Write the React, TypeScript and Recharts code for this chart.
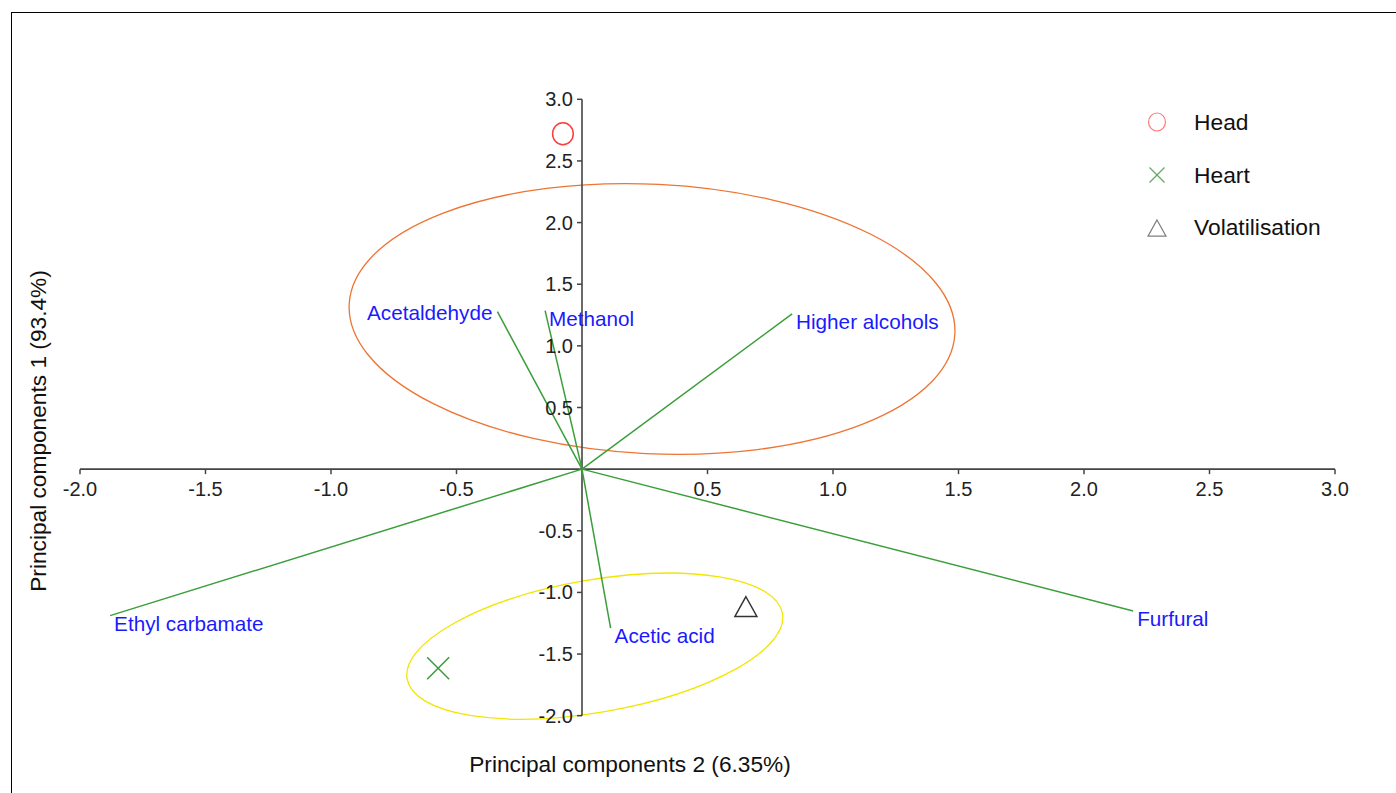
import {
  ScatterChart,
  Scatter,
  XAxis,
  YAxis,
  ReferenceLine,
  ReferenceDot,
  ReferenceArea,
  Legend,
} from 'recharts';

const FONT = '"Liberation Sans", Arial, Helvetica, sans-serif';

// variable loadings: PC2 on the x axis, PC1 on the y axis
const variableNames = ['Acetaldehyde', 'Methanol', 'Higher alcohols', 'Furfural', 'Ethyl carbamate', 'Acetic acid'];
const variablePC2 = [-0.337, -0.147, 0.837, 2.196, -1.88, 0.114];
const variablePC1 = [1.277, 1.286, 1.259, -1.15, -1.188, -1.29];

// sample scores
const groupNames = ['Head', 'Heart', 'Volatilisation'];
const groupPC2 = [-0.076, -0.573, 0.653];
const groupPC1 = [2.72, -1.615, -1.115];

// grouping ellipses: centre, half widths (axis units), tilt (deg)
const ellipseCentrePC2 = [0.279, 0.051];
const ellipseCentrePC1 = [1.218, -1.436];
const ellipseHalfPC2 = [1.208, 0.759];
const ellipseHalfPC1 = [1.093, 0.537];
const ellipseTilt = [2.8, -9.9];

const xTicks = [-2, -1.5, -1, -0.5, 0.5, 1, 1.5, 2, 2.5, 3];
const yTicks = [3, 2.5, 2, 1.5, 1, 0.5, -0.5, -1, -1.5, -2];

const ellipseColors = ['#ee7433', '#f2e600'];
const groupColors = ['#ff3b3b', '#3c9a3c', '#333333'];
const legendColors = ['#ff7a7a', '#66a866', '#808080'];
const legendSizes = [18, 15, 18];
const labelLeft = ['Acetaldehyde'];

const variableData = variableNames.map((name, i) => ({ name, x: variablePC2[i], y: variablePC1[i] }));

function marker(kind: number, cx: number, cy: number, s: number, stroke: string, sw: number) {
  if (kind === 0) {
    return <ellipse cx={cx} cy={cy} rx={s * 0.47} ry={s * 0.5} fill="none" stroke={stroke} strokeWidth={sw} />;
  }
  if (kind === 1) {
    const h = s / 2;
    return (
      <g stroke={stroke} strokeWidth={sw}>
        <line x1={cx - h} y1={cy - h} x2={cx + h} y2={cy + h} />
        <line x1={cx - h} y1={cy + h} x2={cx + h} y2={cy - h} />
      </g>
    );
  }
  const h = s / 2;
  return (
    <polygon
      points={`${cx},${cy - h * 0.9} ${cx - h},${cy + h * 0.9} ${cx + h},${cy + h * 0.9}`}
      fill="none"
      stroke={stroke}
      strokeWidth={sw}
    />
  );
}

function LegendBox() {
  return (
    <div style={{ fontFamily: FONT, fontSize: 22.8, color: '#111' }}>
      {groupNames.map((name, i) => (
        <div key={name} style={{ display: 'flex', alignItems: 'center', height: 52.7 }}>
          <svg width={34} height={26} style={{ display: 'block' }}>
            {marker(i, 17, 13, legendSizes[i], legendColors[i], 1.2)}
          </svg>
          <span style={{ marginLeft: 20, lineHeight: 1 }}>{name}</span>
        </div>
      ))}
    </div>
  );
}

export default function App() {
  return (
    <div>
      <div
        style={{
          position: 'absolute',
          left: 11,
          top: 12,
          width: 1385,
          height: 781,
          borderTop: '1.8px solid #000',
          borderLeft: '1.8px solid #000',
          boxSizing: 'border-box',
        }}
      />
      <div style={{ position: 'absolute', left: 0, top: 0 }}>
        <ScatterChart width={1396} height={793} margin={{ top: 99.3, right: 61, bottom: 77.3, left: 80 }}>
          <XAxis type="number" dataKey="x" domain={[-2, 3]} hide allowDataOverflow />
          <YAxis type="number" dataKey="y" domain={[-2, 3]} hide allowDataOverflow />

          {ellipseCentrePC2.map((c, i) => (
            <ReferenceArea
              key={'e' + i}
              x1={c - ellipseHalfPC2[i]}
              x2={c + ellipseHalfPC2[i]}
              y1={ellipseCentrePC1[i] - ellipseHalfPC1[i]}
              y2={ellipseCentrePC1[i] + ellipseHalfPC1[i]}
              ifOverflow="visible"
              shape={(p: any) => {
                const ex = p.x + p.width / 2;
                const ey = p.y + p.height / 2;
                return (
                  <ellipse
                    cx={ex}
                    cy={ey}
                    rx={Math.abs(p.width) / 2}
                    ry={Math.abs(p.height) / 2}
                    transform={`rotate(${ellipseTilt[i]} ${ex} ${ey})`}
                    fill="none"
                    stroke={ellipseColors[i]}
                    strokeWidth={1.3}
                  />
                );
              }}
            />
          ))}

          {/* axes drawn through the origin */}
          <ReferenceLine segment={[{ x: -2, y: 0 }, { x: 3, y: 0 }]} stroke="#444" strokeWidth={1.6} ifOverflow="visible" />
          <ReferenceLine segment={[{ x: 0, y: -2 }, { x: 0, y: 3 }]} stroke="#444" strokeWidth={1.6} ifOverflow="visible" />
          {xTicks.map((t) => (
            <ReferenceDot
              key={'xt' + t}
              x={t}
              y={0}
              r={0}
              ifOverflow="visible"
              shape={(p: any) => (
                <g>
                  <line x1={p.cx} y1={p.cy} x2={p.cx} y2={p.cy + 5} stroke="#444" strokeWidth={1.5} />
                  <text x={p.cx} y={p.cy + 27} textAnchor="middle" fontFamily={FONT} fontSize={20} fill="#222">
                    {t.toFixed(1)}
                  </text>
                </g>
              )}
            />
          ))}
          {yTicks.map((t) => (
            <ReferenceDot
              key={'yt' + t}
              x={0}
              y={t}
              r={0}
              ifOverflow="visible"
              shape={(p: any) => (
                <g>
                  <line x1={p.cx - 5} y1={p.cy} x2={p.cx} y2={p.cy} stroke="#444" strokeWidth={1.5} />
                  <text x={p.cx - 9} y={p.cy + 7} textAnchor="end" fontFamily={FONT} fontSize={20} fill="#222">
                    {t.toFixed(1)}
                  </text>
                </g>
              )}
            />
          ))}

          {variableData.map((d) => (
            <ReferenceLine
              key={'v' + d.name}
              segment={[{ x: 0, y: 0 }, { x: d.x, y: d.y }]}
              stroke="#3a9e3a"
              strokeWidth={1.5}
              ifOverflow="visible"
            />
          ))}

          <Scatter
            name="variables"
            data={variableData}
            legendType="none"
            isAnimationActive={false}
            shape={(p: any) => {
              const left = labelLeft.includes(p.payload.name);
              return (
                <text
                  x={left ? p.cx - 5 : p.cx + 4}
                  y={left ? p.cy + 8 : p.cy + 15}
                  textAnchor={left ? 'end' : 'start'}
                  fontFamily={FONT}
                  fontSize={20.7}
                  fill="#1a1aff"
                >
                  {p.payload.name}
                </text>
              );
            }}
          />

          {groupNames.map((name, i) => (
            <Scatter
              key={name}
              name={name}
              data={[{ x: groupPC2[i], y: groupPC1[i] }]}
              isAnimationActive={false}
              shape={(p: any) => marker(i, p.cx, p.cy, 22, groupColors[i], 1.5)}
            />
          ))}

          <Legend
            verticalAlign="middle"
            align="center"
            content={() => <LegendBox />}
            wrapperStyle={{ position: 'absolute', left: 1140, top: 96, width: 250 }}
          />

          <text x={630} y={772} textAnchor="middle" fontFamily={FONT} fontSize={22.7} fill="#111">
            Principal components 2 (6.35%)
          </text>
          <text
            x={46}
            y={431}
            textAnchor="middle"
            fontFamily={FONT}
            fontSize={22.7}
            fill="#111"
            transform="rotate(-90 46 431)"
          >
            Principal components 1 (93.4%)
          </text>
        </ScatterChart>
      </div>
    </div>
  );
}
